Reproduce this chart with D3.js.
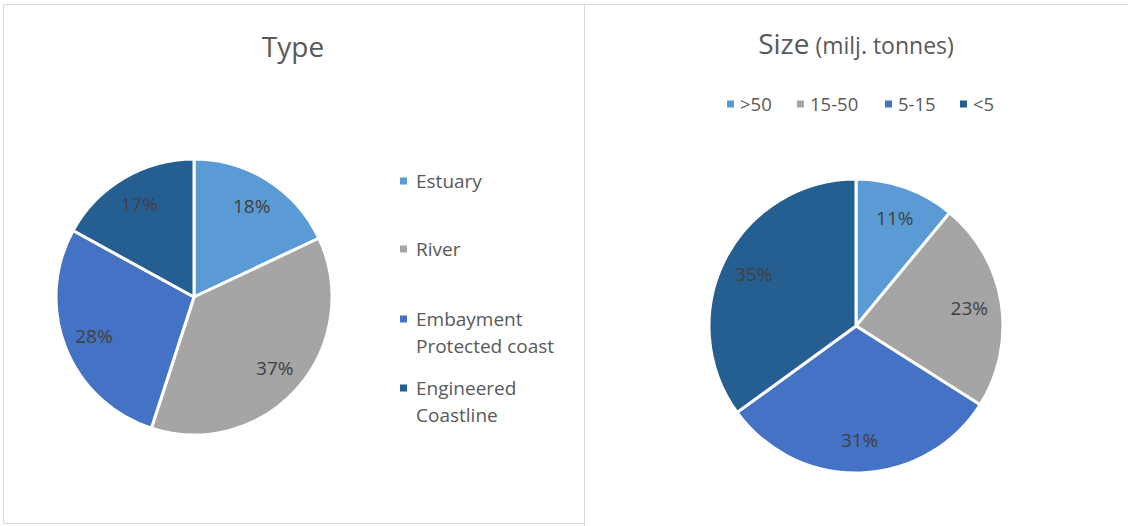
<!DOCTYPE html>
<html><head><meta charset="utf-8">
<script src="https://cdn.jsdelivr.net/npm/d3@7"></script>
<style>
body{margin:0;background:#fff;}
svg{display:block;font-family:"Open Sans",Lato,sans-serif;}
</style></head>
<body>
<svg id="c" width="1128" height="526"></svg>
<script>
const typeCategories = ["Estuary", "River", "Embayment Protected coast", "Engineered Coastline"];
const typeLegendLines = [["Estuary"], ["River"], ["Embayment", "Protected coast"], ["Engineered", "Coastline"]];
const typeValues = [18, 37, 28, 17];
const sizeCategories = [">50", "15-50", "5-15", "<5"];
const sizeValues = [11, 23, 31, 35];
const palette = ["#5B9BD5", "#A5A5A5", "#4472C4", "#255E91"];

const svg = d3.select("#c");
const textColor = "#595959";

// panel borders
svg.append("rect").attr("x", 3.5).attr("y", 4.5).attr("width", 581).attr("height", 519)
  .attr("fill", "none").attr("stroke", "#d9d9d9");
svg.append("line").attr("x1", 584.5).attr("x2", 584.5).attr("y1", 4.5).attr("y2", 526).attr("stroke", "#d9d9d9");
svg.append("line").attr("x1", 584.5).attr("x2", 1128).attr("y1", 4.5).attr("y2", 4.5).attr("stroke", "#d9d9d9");

function drawPie(values, color, cats, cx, cy, r) {
  const pie = d3.pie().sort(null).value(d => d);
  const arcs = pie(values);
  const arc = d3.arc().innerRadius(0).outerRadius(r);
  const labelArc = d3.arc().innerRadius(r * 0.78).outerRadius(r * 0.78);
  const g = svg.append("g").attr("transform", `translate(${cx},${cy})`);
  g.selectAll("path").data(arcs).join("path")
    .attr("d", arc)
    .attr("fill", (d, i) => color(cats[i]))
    .attr("stroke", "#fff").attr("stroke-width", 3).attr("stroke-linejoin", "round");
  const total = d3.sum(values);
  g.selectAll("text").data(arcs).join("text")
    .attr("transform", d => `translate(${labelArc.centroid(d)})`)
    .attr("text-anchor", "middle").attr("dy", "0.36em")
    .attr("font-size", 19).attr("fill", "#404040")
    .text(d => d3.format(".0%")(d.data / total));
}

const color1 = d3.scaleOrdinal().domain(typeCategories).range(palette);
const color2 = d3.scaleOrdinal().domain(sizeCategories).range(palette);

drawPie(typeValues, color1, typeCategories, 194, 297, 138);

// Left title
svg.append("text").attr("x", 293).attr("y", 57).attr("text-anchor", "middle")
  .attr("font-size", 28).attr("fill", textColor).text("Type");

// Left legend
const legY = [181, 249, 319, 388];
typeCategories.forEach((c, i) => {
  const g = svg.append("g");
  g.append("rect").attr("x", 400).attr("y", legY[i] - 3.5).attr("width", 7).attr("height", 7).attr("fill", color1(c));
  const t = g.append("text").attr("x", 416).attr("y", legY[i])
    .attr("font-size", 19).attr("fill", textColor);
  typeLegendLines[i].forEach((ln, j) => {
    t.append("tspan").attr("x", 416).attr("dy", j === 0 ? "0.36em" : 27).text(ln);
  });
});

// Right pie
drawPie(sizeValues, color2, sizeCategories, 856, 326, 147);

// Right title
const tt = svg.append("text").attr("x", 856).attr("y", 54).attr("text-anchor", "middle").attr("fill", textColor);
tt.append("tspan").attr("font-size", 28).text("Size");
tt.append("tspan").attr("font-size", 23).text(" (milj. tonnes)");

// Right legend
const legX = [727, 797, 885, 960];
sizeCategories.forEach((c, i) => {
  svg.append("rect").attr("x", legX[i]).attr("y", 100.5).attr("width", 7).attr("height", 7).attr("fill", color2(c));
  svg.append("text").attr("x", legX[i] + 13).attr("y", 104).attr("dy", "0.36em")
    .attr("font-size", 18.5).attr("fill", textColor).text(c);
});
</script>
</body></html>
